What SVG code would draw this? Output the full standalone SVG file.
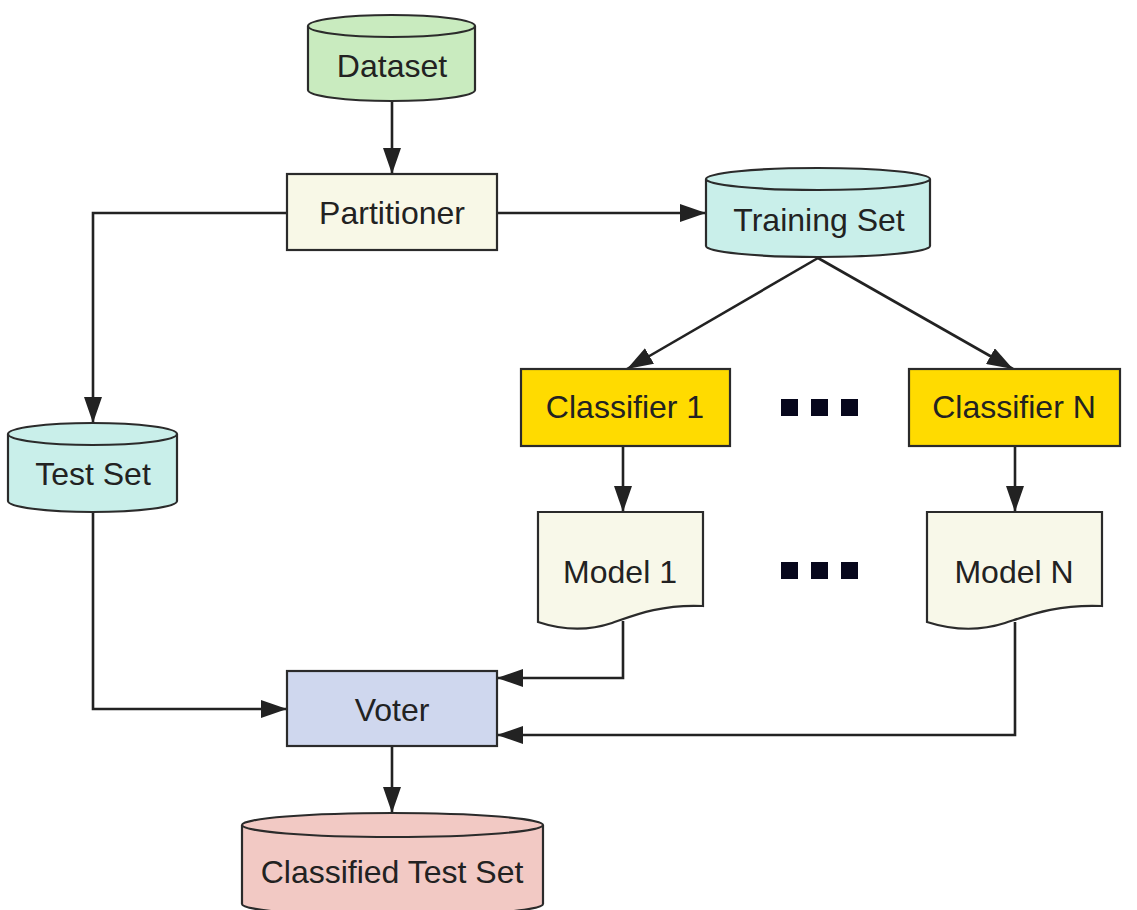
<svg xmlns="http://www.w3.org/2000/svg" width="1137" height="910" viewBox="0 0 1137 910">
<style>
.shape{stroke:#2b2b2b;stroke-width:2.2}
.lbl{font-family:"Liberation Sans",Arial,sans-serif;font-size:32px;fill:#222;text-anchor:middle}
.conn{fill:none;stroke:#222;stroke-width:2.6}
.dot{fill:#07071c}
</style>
<defs>
<marker id="arr" markerWidth="26" markerHeight="18" refX="26" refY="9" orient="auto" markerUnits="userSpaceOnUse">
<path d="M0,0 L26,9 L0,18 Z" fill="#222"/>
</marker>
</defs>
<rect width="1137" height="910" fill="#fff"/>

<g id="connectors">
<path class="conn" d="M392,101 V174" marker-end="url(#arr)"/>
<path class="conn" d="M497,213 H706" marker-end="url(#arr)"/>
<path class="conn" d="M287,213 H93 V423" marker-end="url(#arr)"/>
<path class="conn" d="M818,258 L627,369" marker-end="url(#arr)"/>
<path class="conn" d="M818,258 L1013,369" marker-end="url(#arr)"/>
<path class="conn" d="M623,446 V512" marker-end="url(#arr)"/>
<path class="conn" d="M1015,446 V512" marker-end="url(#arr)"/>
<path class="conn" d="M93,512 V709 H287" marker-end="url(#arr)"/>
<path class="conn" d="M623,621 V678 H497" marker-end="url(#arr)"/>
<path class="conn" d="M1015,622 V735 H497" marker-end="url(#arr)"/>
<path class="conn" d="M392,746 V813" marker-end="url(#arr)"/>
</g>

<g id="dataset">
<path class="shape" fill="#c9ebbf" d="M308,26 V90 A83.5,11 0 0 0 475,90 V26 A83.5,11 0 0 0 308,26 Z"/>
<path class="shape" fill="none" d="M308,26 A83.5,11 0 0 0 475,26"/>
<text class="lbl" x="392" y="77">Dataset</text>
</g>

<g id="partitioner">
<rect class="shape" fill="#f8f8e7" x="287" y="174" width="210" height="76"/>
<text class="lbl" x="392" y="224">Partitioner</text>
</g>

<g id="training-set">
<path class="shape" fill="#c9efea" d="M706,179 V246 A112,11 0 0 0 930,246 V179 A112,11 0 0 0 706,179 Z"/>
<path class="shape" fill="none" d="M706,179 A112,11 0 0 0 930,179"/>
<text class="lbl" x="819" y="231">Training Set</text>
</g>

<g id="test-set">
<path class="shape" fill="#c9efea" d="M8,434 V501 A84.5,11 0 0 0 177,501 V434 A84.5,11 0 0 0 8,434 Z"/>
<path class="shape" fill="none" d="M8,434 A84.5,11 0 0 0 177,434"/>
<text class="lbl" x="93" y="485">Test Set</text>
</g>

<g id="classifier-1">
<rect class="shape" fill="#ffdb00" x="521" y="369" width="209" height="77"/>
<text class="lbl" x="625" y="418">Classifier 1</text>
</g>

<g id="classifier-n">
<rect class="shape" fill="#ffdb00" x="909" y="369" width="211" height="77"/>
<text class="lbl" x="1014" y="418">Classifier N</text>
</g>

<g id="dots-classifiers">
<rect class="dot" x="781" y="399" width="17" height="17"/>
<rect class="dot" x="811" y="399" width="17" height="17"/>
<rect class="dot" x="841" y="399" width="17" height="17"/>
</g>

<g id="model-1">
<path class="shape" fill="#f8f8e9" d="M538,512 H703 V606 C660,604 632,616 612,623 C588,631 562,630 538,622 Z"/>
<text class="lbl" x="620" y="583">Model 1</text>
</g>

<g id="model-n">
<path class="shape" fill="#f8f8e9" d="M927,512 H1102 V606 C1056,604 1027,616 1005,623 C980,631 952,630 927,622 Z"/>
<text class="lbl" x="1014" y="583">Model N</text>
</g>

<g id="dots-models">
<rect class="dot" x="781" y="562" width="17" height="17"/>
<rect class="dot" x="811" y="562" width="17" height="17"/>
<rect class="dot" x="841" y="562" width="17" height="17"/>
</g>

<g id="voter">
<rect class="shape" fill="#cfd7ee" x="287" y="671" width="210" height="75"/>
<text class="lbl" x="392" y="721">Voter</text>
</g>

<g id="classified-test-set">
<path class="shape" fill="#f2c9c4" d="M242,825 V904 A150.5,12 0 0 0 543,904 V825 A150.5,12 0 0 0 242,825 Z"/>
<path class="shape" fill="none" d="M242,825 A150.5,12 0 0 0 543,825"/>
<text class="lbl" x="392" y="883">Classified Test Set</text>
</g>
</svg>
